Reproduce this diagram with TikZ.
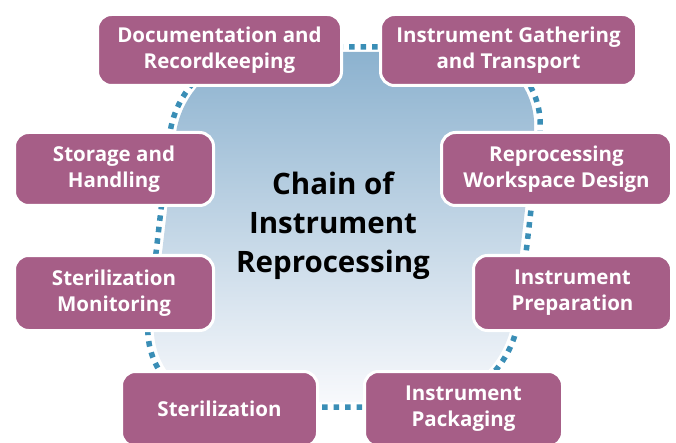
\documentclass[tikz,border=0pt]{standalone}
\usepackage{fontspec}
\setmainfont{Open Sans}
\definecolor{boxfill}{RGB}{166,94,135}
\definecolor{blobtop}{RGB}{140,178,207}
\definecolor{blobbot}{RGB}{248,249,252}
\definecolor{dotblue}{RGB}{58,142,182}
\begin{document}
\begin{tikzpicture}[x=1pt,y=-1pt,
  box/.style={draw=white, line width=3pt, fill=boxfill, rounded corners=14pt,
    text=white, font=\bfseries\fontsize{20.5}{26}\selectfont, align=center, inner sep=0pt},
  rim/.style={draw=dotblue, line width=5.5pt, dash pattern=on 5.5pt off 6pt},
  titletext/.style={font=\bfseries\fontsize{29.5}{39}\selectfont, align=center, text=black, inner sep=0pt}
]
\useasboundingbox (0,0) rectangle (676,443);
\clip (0,0) rectangle (676,443);
\begin{scope}[shift={(344,227)}, xslant=0.116]
  \shade[top color=blobtop, bottom color=blobbot, rounded corners=84pt] (-179,-175) rectangle (179,175);
  \draw[rim, rounded corners=89pt] (-185,-180) rectangle (185,180);
\end{scope}
\node[titletext] (title) at (333,226) {Chain of\\Instrument\\Reprocessing};
\node[box, minimum width=244pt, minimum height=71pt] (doc) at (219.5,50) {Documentation and\\Recordkeeping};
\node[box, minimum width=256pt, minimum height=71pt] (gath) at (508.5,50) {Instrument Gathering\\and Transport};
\node[box, minimum width=199pt, minimum height=73pt] (stor) at (114,169) {Storage and\\Handling};
\node[box, minimum width=230pt, minimum height=73pt] (work) at (556.5,169) {Reprocessing\\Workspace Design};
\node[box, minimum width=199pt, minimum height=75pt] (mon) at (114,293) {Sterilization\\Monitoring};
\node[box, minimum width=198pt, minimum height=75pt] (prep) at (572.5,293) {Instrument\\Preparation};
\node[box, minimum width=196pt, minimum height=75pt] (ster) at (219.5,409) {Sterilization};
\node[box, minimum width=198pt, minimum height=75pt] (pack) at (463.5,409) {Instrument\\Packaging};
\end{tikzpicture}
\end{document}
